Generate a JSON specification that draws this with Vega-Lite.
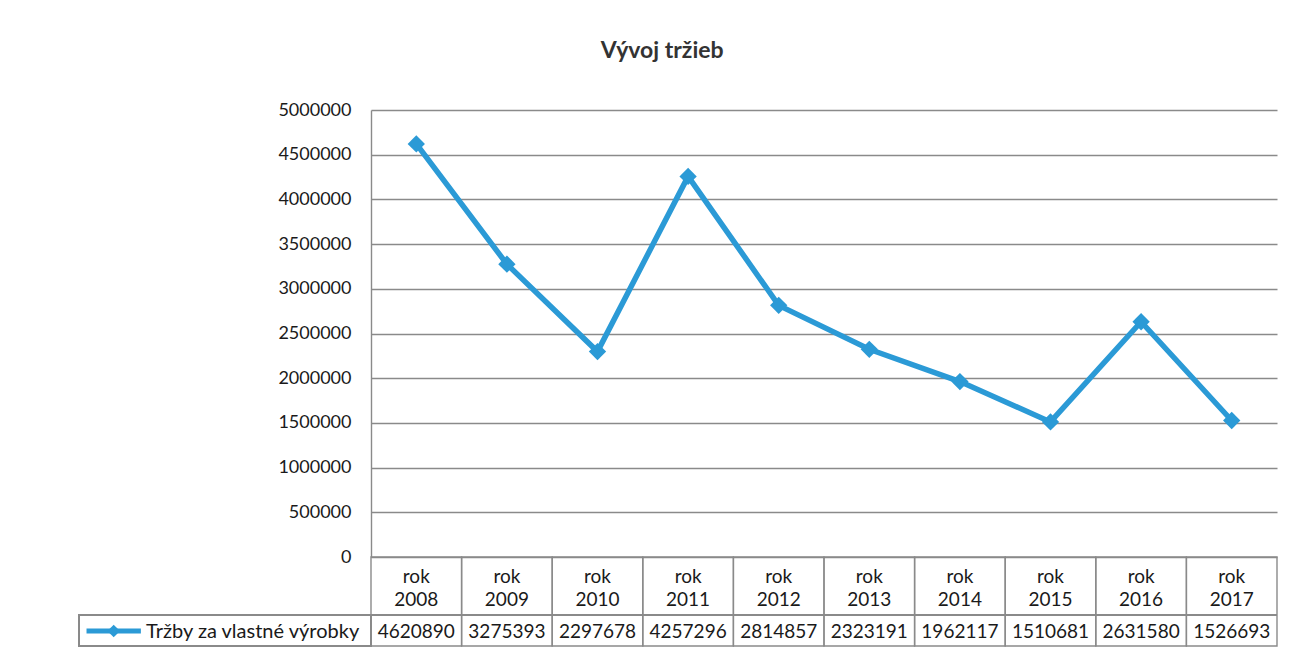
{
  "$schema": "https://vega.github.io/schema/vega-lite/v6.json",
  "background": "white",
  "padding": {"left": 78, "top": 40, "right": 5, "bottom": 0},
  "title": {"text": "Vývoj tržieb", "font": "Lato", "fontSize": 23, "fontWeight": "bold", "color": "#333333", "anchor": "middle", "offset": 38, "dx": -16},
  "data": {"values": [
    {"rok": "rok 2008", "year": 2008, "value": 4620890},
    {"rok": "rok 2009", "year": 2009, "value": 3275393},
    {"rok": "rok 2010", "year": 2010, "value": 2297678},
    {"rok": "rok 2011", "year": 2011, "value": 4257296},
    {"rok": "rok 2012", "year": 2012, "value": 2814857},
    {"rok": "rok 2013", "year": 2013, "value": 2323191},
    {"rok": "rok 2014", "year": 2014, "value": 1962117},
    {"rok": "rok 2015", "year": 2015, "value": 1510681},
    {"rok": "rok 2016", "year": 2016, "value": 2631580},
    {"rok": "rok 2017", "year": 2017, "value": 1526693}
  ]},
  "spacing": 0,
  "bounds": "flush",
  "vconcat": [
    {
      "width": 906,
      "height": 447,
      "encoding": {
        "x": {"field": "year", "type": "quantitative", "scale": {"domain": [2007.5, 2017.5], "nice": false, "zero": false}, "axis": null},
        "y": {"field": "value", "type": "quantitative", "scale": {"domain": [0, 5000000], "nice": false}, "axis": {"values": [0, 500000, 1000000, 1500000, 2000000, 2500000, 3000000, 3500000, 4000000, 4500000, 5000000], "format": "d", "title": null, "labelFont": "Lato", "labelFontSize": 18, "labelColor": "#1a1a1a", "labelPadding": 20, "ticks": false, "domain": true, "domainColor": "#8a8a8a", "domainWidth": 1.4, "grid": true, "gridColor": "#8a8a8a", "gridWidth": 1.4}}
      },
      "layer": [
        {"mark": {"type": "line", "color": "#2B9AD6", "strokeWidth": 5.5}},
        {"mark": {"type": "point", "shape": "diamond", "filled": true, "opacity": 1, "color": "#2B9AD6", "size": 300}}
      ]
    },
    {
      "width": 906,
      "height": 89,
      "transform": [
        {"calculate": "datum.year - 0.5", "as": "x0"},
        {"calculate": "datum.year + 0.5", "as": "x1"}
      ],
      "layer": [
        {
          "mark": {"type": "rect", "fill": "transparent", "stroke": "#8a8a8a", "strokeWidth": 1.4},
          "encoding": {
            "x": {"field": "x0", "type": "quantitative", "scale": {"domain": [2007.5, 2017.5], "nice": false, "zero": false}, "axis": null},
            "x2": {"field": "x1"},
            "y": {"datum": 0, "type": "quantitative", "scale": {"domain": [0, 89], "nice": false}, "axis": null},
            "y2": {"datum": 89}
          }
        },
        {
          "mark": {"type": "rule", "color": "#8a8a8a", "strokeWidth": 1.4},
          "encoding": {
            "x": {"datum": 2007.5, "type": "quantitative"},
            "x2": {"datum": 2017.5},
            "y": {"datum": 31, "type": "quantitative"}
          }
        },
        {
          "mark": {"type": "rect", "fill": "transparent", "stroke": "#8a8a8a", "strokeWidth": 1.4},
          "encoding": {
            "x": {"datum": 2004.28, "type": "quantitative"},
            "x2": {"datum": 2007.5},
            "y": {"datum": 0, "type": "quantitative"},
            "y2": {"datum": 31}
          }
        },
        {
          "mark": {"type": "text", "font": "Lato", "fontSize": 19, "color": "#1a1a1a", "lineBreak": " ", "lineHeight": 23, "baseline": "middle", "align": "center"},
          "encoding": {
            "x": {"field": "year", "type": "quantitative"},
            "y": {"datum": 69, "type": "quantitative"},
            "text": {"field": "rok", "type": "nominal"}
          }
        },
        {
          "mark": {"type": "text", "font": "Lato", "fontSize": 19, "color": "#1a1a1a", "baseline": "middle", "align": "center"},
          "encoding": {
            "x": {"field": "year", "type": "quantitative"},
            "y": {"datum": 14, "type": "quantitative"},
            "text": {"field": "value", "type": "quantitative", "format": "d"}
          }
        },
        {
          "data": {"values": [{"series": "Tržby za vlastné výrobky"}]},
          "layer": [
            {
              "mark": {"type": "rule", "color": "#2B9AD6", "strokeWidth": 5},
              "encoding": {
                "x": {"datum": 2004.36, "type": "quantitative"},
                "x2": {"datum": 2004.96},
                "y": {"datum": 15, "type": "quantitative"}
              }
            },
            {
              "mark": {"type": "point", "shape": "diamond", "filled": true, "opacity": 1, "color": "#2B9AD6", "size": 160},
              "encoding": {
                "x": {"datum": 2004.66, "type": "quantitative"},
                "y": {"datum": 15, "type": "quantitative"}
              }
            },
            {
              "mark": {"type": "text", "font": "Lato", "fontSize": 20, "color": "#1a1a1a", "baseline": "middle", "align": "right"},
              "encoding": {
                "x": {"datum": 2007.37, "type": "quantitative"},
                "y": {"datum": 14, "type": "quantitative"},
                "text": {"field": "series", "type": "nominal"}
              }
            }
          ]
        }
      ]
    }
  ],
  "config": {"view": {"stroke": null}, "font": "Lato"}
}
